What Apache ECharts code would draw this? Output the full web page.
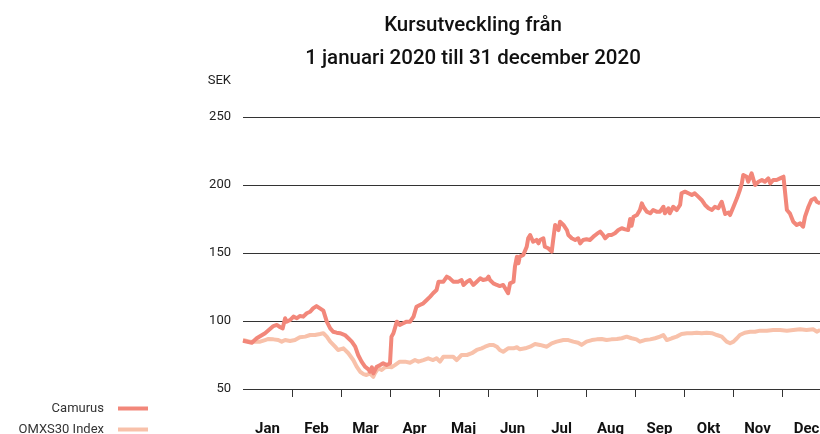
<!DOCTYPE html>
<html>
<head>
<meta charset="utf-8">
<title>Kursutveckling 2020</title>
<script src="https://cdn.jsdelivr.net/npm/echarts@6/dist/echarts.min.js"></script>
<style>
  html, body { margin: 0; padding: 0; background: #fff; }
  #chart { width: 820px; height: 434px; }
</style>
</head>
<body>
<div id="chart"></div>
<script>
// months on the x axis (tid i månader från 1 jan)
const months = ['Jan', 'Feb', 'Mar', 'Apr', 'Maj', 'Jun', 'Jul', 'Aug', 'Sep', 'Okt', 'Nov', 'Dec']
const yTicks = [50, 100, 150, 200, 250]

// Camurus, SEK
const camurusT = [0.00, 0.18, 0.28, 0.45, 0.62, 0.69, 0.76, 0.81, 0.86, 0.89, 0.96, 1.03, 1.10, 1.16, 1.23, 1.30, 1.37, 1.43, 1.50, 1.57,
  1.64, 1.71, 1.78, 1.84, 1.91, 1.98, 2.08, 2.15, 2.22, 2.29, 2.35, 2.42, 2.49, 2.56, 2.59, 2.63, 2.66, 2.73, 2.80, 2.86,
  2.93, 3.00, 3.03, 3.07, 3.14, 3.20, 3.27, 3.34, 3.41, 3.48, 3.54, 3.61, 3.68, 3.75, 3.82, 3.88, 3.95, 3.99, 4.02, 4.09,
  4.16, 4.19, 4.22, 4.29, 4.33, 4.39, 4.46, 4.50, 4.57, 4.63, 4.70, 4.77, 4.84, 4.90, 4.97, 5.01, 5.04, 5.11, 5.18, 5.24,
  5.31, 5.35, 5.41, 5.45, 5.52, 5.55, 5.59, 5.62, 5.65, 5.72, 5.79, 5.82, 5.86, 5.92, 5.99, 6.03, 6.06, 6.13, 6.16, 6.23,
  6.30, 6.33, 6.37, 6.40, 6.44, 6.47, 6.54, 6.61, 6.64, 6.71, 6.78, 6.84, 6.88, 6.94, 7.01, 7.08, 7.15, 7.22, 7.29, 7.35,
  7.39, 7.46, 7.52, 7.59, 7.66, 7.73, 7.80, 7.86, 7.90, 7.93, 7.97, 8.04, 8.10, 8.14, 8.17, 8.24, 8.31, 8.37, 8.44, 8.51,
  8.58, 8.61, 8.68, 8.71, 8.78, 8.85, 8.92, 8.95, 9.02, 9.09, 9.16, 9.22, 9.29, 9.36, 9.43, 9.50, 9.57, 9.63, 9.70, 9.77,
  9.80, 9.84, 9.91, 9.94, 10.01, 10.08, 10.14, 10.18, 10.21, 10.28, 10.31, 10.38, 10.45, 10.52, 10.59, 10.65, 10.72, 10.76, 10.82, 10.89,
  10.96, 11.03, 11.06, 11.10, 11.16, 11.23, 11.30, 11.37, 11.43, 11.47, 11.54, 11.60, 11.67, 11.71, 11.78]
const camurusSek = [85.5, 84.0, 87.3, 91.0, 96.3, 97.1, 95.4, 94.6, 102.0, 99.5, 100.7, 103.2, 102.0, 103.7, 103.2, 105.7, 106.8, 109.3, 111.0, 109.3,
  107.6, 99.5, 94.6, 92.1, 91.4, 91.0, 89.7, 87.3, 84.8, 81.1, 75.0, 70.1, 66.4, 64.5, 62.7, 66.0, 61.5, 66.4, 67.6, 68.9,
  67.6, 68.9, 88.5, 91.0, 99.5, 97.1, 98.3, 99.5, 99.5, 103.2, 110.5, 111.8, 113.0, 115.4, 117.9, 120.4, 122.8, 128.9, 130.1, 128.9,
  132.6, 133.8, 131.4, 128.9, 127.7, 128.9, 130.1, 126.5, 128.9, 130.1, 126.5, 128.9, 131.4, 130.1, 130.7, 132.6, 130.1, 127.7, 126.5, 125.7,
  126.5, 124.0, 120.4, 127.7, 128.9, 139.9, 147.3, 142.4, 147.3, 148.5, 154.6, 160.8, 163.2, 158.3, 159.6, 157.1, 159.6, 160.8, 154.6, 153.5,
  151.0, 159.6, 170.6, 169.3, 166.9, 173.0, 170.6, 166.9, 163.2, 160.8, 159.6, 160.8, 157.1, 159.6, 160.1, 159.6, 162.0, 164.0, 165.7, 163.2,
  160.8, 163.2, 163.2, 164.5, 166.9, 168.2, 167.4, 166.9, 175.0, 170.0, 176.7, 177.9, 181.6, 186.5, 184.0, 180.4, 179.2, 181.6, 180.4, 180.4,
  184.0, 179.2, 182.9, 179.2, 184.0, 181.6, 185.3, 193.9, 195.1, 193.9, 192.6, 193.9, 191.4, 189.0, 185.3, 182.9, 181.6, 184.0, 182.9, 187.7,
  187.7, 178.7, 179.8, 177.9, 184.0, 190.2, 196.3, 201.2, 207.4, 206.1, 202.4, 208.6, 200.0, 202.4, 203.7, 202.4, 204.9, 201.2, 203.7, 203.7,
  204.9, 206.1, 204.9, 181.6, 179.2, 173.0, 170.6, 171.8, 169.3, 176.7, 184.0, 189.0, 190.2, 187.7, 186.5]

// OMXS30 Index (omräknat till SEK-skalan)
const omxT = [0.00, 0.14, 0.24, 0.35, 0.45, 0.52, 0.62, 0.72, 0.79, 0.86, 0.96, 1.06, 1.16, 1.27, 1.37, 1.47, 1.57, 1.64, 1.71, 1.78,
  1.88, 1.94, 2.05, 2.08, 2.15, 2.25, 2.32, 2.39, 2.46, 2.52, 2.59, 2.66, 2.69, 2.76, 2.83, 2.90, 2.97, 3.03, 3.10, 3.20,
  3.31, 3.41, 3.51, 3.58, 3.68, 3.78, 3.88, 3.95, 4.02, 4.09, 4.19, 4.29, 4.36, 4.46, 4.57, 4.67, 4.77, 4.87, 4.94, 5.04,
  5.11, 5.18, 5.24, 5.31, 5.41, 5.52, 5.59, 5.65, 5.76, 5.86, 5.96, 6.06, 6.20, 6.30, 6.40, 6.54, 6.64, 6.74, 6.84, 6.91,
  7.01, 7.12, 7.22, 7.32, 7.42, 7.52, 7.63, 7.73, 7.83, 7.93, 8.03, 8.10, 8.20, 8.31, 8.41, 8.51, 8.58, 8.65, 8.75, 8.85,
  8.95, 9.06, 9.16, 9.26, 9.36, 9.46, 9.57, 9.67, 9.77, 9.87, 9.94, 10.01, 10.08, 10.14, 10.24, 10.35, 10.45, 10.55, 10.69, 10.82,
  10.96, 11.10, 11.23, 11.37, 11.50, 11.64, 11.71, 11.78]
const omxSek = [86.0, 84.8, 84.8, 84.8, 86.0, 86.8, 86.5, 86.0, 84.8, 86.0, 85.3, 86.0, 88.0, 88.5, 89.7, 89.7, 90.4, 91.0, 88.5, 84.8,
  81.1, 78.7, 79.9, 78.7, 76.3, 71.3, 66.4, 62.7, 61.0, 60.3, 61.5, 59.0, 61.5, 65.2, 64.0, 66.0, 66.4, 66.0, 67.6, 70.1,
  70.1, 69.3, 71.3, 70.1, 71.3, 72.6, 71.3, 72.6, 70.1, 73.7, 73.7, 73.7, 71.3, 75.0, 75.0, 76.3, 78.7, 79.9, 81.1, 82.4,
  82.4, 81.1, 78.7, 77.4, 79.9, 79.9, 80.7, 79.2, 79.9, 81.1, 83.1, 82.4, 81.1, 83.6, 84.8, 86.0, 86.0, 84.8, 84.0, 82.4,
  84.8, 86.0, 86.5, 86.8, 86.0, 86.5, 86.8, 87.3, 88.5, 87.3, 86.5, 84.8, 86.0, 86.5, 87.3, 88.5, 89.7, 86.0, 87.3, 88.5,
  90.4, 91.0, 91.0, 91.4, 91.0, 91.4, 91.0, 89.7, 88.5, 84.8, 83.6, 84.8, 87.3, 89.7, 91.4, 92.1, 92.1, 92.9, 92.9, 93.4,
  93.4, 92.9, 93.4, 93.9, 93.4, 93.9, 92.1, 93.4]

const pairs = (t, v) => t.map((x, i) => [x, v[i]])
// månadsskiften (streck under axeln), första kanten har inget streck
const monthEdges = months.map((m, i) => i + 1)

const chart = echarts.init(document.getElementById('chart'))

// en legend per serie så att de hamnar under varandra
const legendItem = (name, top) => ({
  data: [name],
  orient: 'vertical',
  align: 'right',
  right: 667,
  top: top,
  itemWidth: 30,
  itemHeight: 4,
  icon: 'rect',
  selectedMode: false,
  textStyle: { fontSize: 13, color: '#333', padding: [0, 9, 0, 0] }
})

const option = {
  animation: false,
  textStyle: { fontFamily: 'Roboto' },
  title: {
    text: 'Kursutveckling från\n1 januari 2020 till 31 december 2020',
    left: 468,
    top: 4,
    textAlign: 'center',
    textStyle: {
      fontFamily: 'Roboto',
      fontSize: 20.5,
      fontWeight: 500,
      color: '#111',
      lineHeight: 33
    }
  },
  legend: [legendItem('Camurus', 397), legendItem('OMXS30 Index', 418)],
  grid: {
    left: 243,
    top: 117,
    width: 588,
    height: 272,
    outerBoundsMode: 'none'
  },
  xAxis: [
    {
      // månadsetiketter (bara text)
      type: 'category',
      data: months,
      position: 'bottom',
      boundaryGap: true,
      axisLine: { show: false },
      axisTick: { show: false },
      axisLabel: {
        margin: 33,
        fontSize: 15,
        fontWeight: 'bold',
        color: '#111'
      },
      splitLine: { show: false }
    },
    {
      // tidsaxel för kurserna
      type: 'value',
      position: 'bottom',
      min: 0,
      max: 12,
      interval: 1,
      axisLine: { show: false },
      axisTick: { show: false },
      axisLabel: { show: false },
      splitLine: { show: false }
    }
  ],
  yAxis: {
    type: 'value',
    min: yTicks[0],
    max: yTicks[yTicks.length - 1],
    interval: 50,
    name: 'SEK',
    nameLocation: 'end',
    nameGap: 30,
    nameTextStyle: { align: 'right', fontSize: 13, color: '#222', padding: [0, 12, 0, 0] },
    axisLine: { show: false },
    axisTick: { show: false },
    axisLabel: { fontSize: 13, color: '#222', margin: 12 },
    splitLine: { lineStyle: { color: '#333', width: 1 } }
  },
  series: [
    {
      type: 'custom',
      xAxisIndex: 1,
      silent: true,
      clip: false,
      data: monthEdges,
      renderItem: (params, api) => {
        const p = api.coord([api.value(0), yTicks[0]])
        const x = Math.round(p[0]) + 0.5
        return {
          type: 'line',
          shape: { x1: x, y1: p[1], x2: x, y2: p[1] + 8 },
          style: { stroke: '#333', lineWidth: 1 }
        }
      }
    },
    {
      name: 'OMXS30 Index',
      type: 'line',
      xAxisIndex: 1,
      data: pairs(omxT, omxSek),
      showSymbol: false,
      symbol: 'none',
      itemStyle: { color: '#f8c1aa' },
      lineStyle: { color: '#f8c1aa', width: 4, join: 'round' }
    },
    {
      name: 'Camurus',
      type: 'line',
      xAxisIndex: 1,
      data: pairs(camurusT, camurusSek),
      showSymbol: false,
      symbol: 'none',
      itemStyle: { color: '#f2877a' },
      lineStyle: { color: '#f2877a', width: 4, join: 'round' }
    }
  ]
}

chart.setOption(option)
</script>
</body>
</html>
